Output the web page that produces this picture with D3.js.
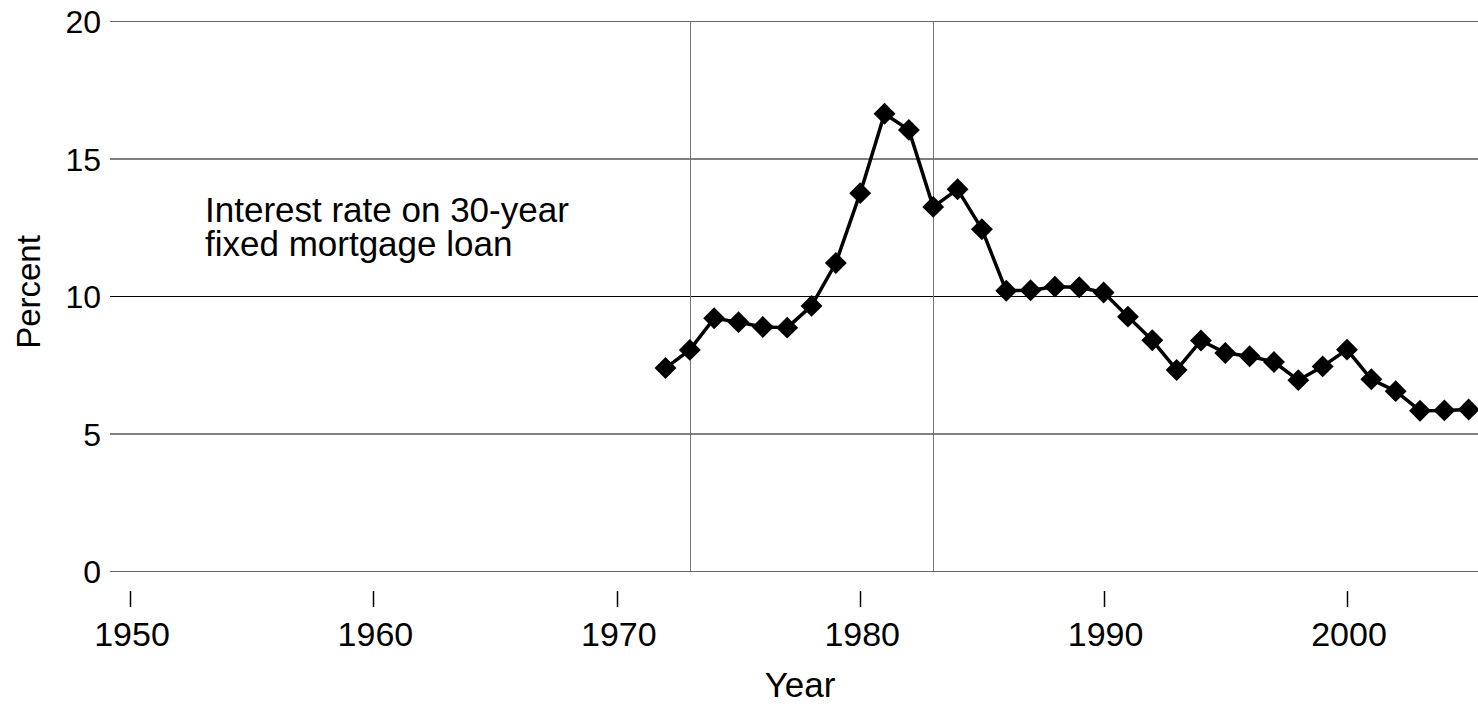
<!DOCTYPE html>
<html>
<head>
<meta charset="utf-8">
<script src="https://cdn.jsdelivr.net/npm/d3@7"></script>
<style>
  body { margin: 0; background: #fff; }
  text { font-family: "Liberation Sans", Arial, sans-serif; fill: #000; }
</style>
</head>
<body>
<div class="chart"></div>
<script>
'use strict'
const years = d3.range(1972, 2006)
const rates = [7.38, 8.04, 9.19, 9.05, 8.87, 8.85, 9.64, 11.20, 13.74, 16.63, 16.04, 13.24, 13.88,
  12.43, 10.19, 10.21, 10.34, 10.32, 10.13, 9.25, 8.39, 7.31, 8.38, 7.93, 7.81, 7.60, 6.94,
  7.44, 8.05, 6.97, 6.54, 5.83, 5.84, 5.87]
const yTicks = [0, 5, 10, 15, 20]
const xTicks = [1950, 1960, 1970, 1980, 1990, 2000]
const markerYears = [1973, 1983]
const note = ['Interest rate on 30-year', 'fixed mortgage loan']

const width = 1478
const height = 704

const x = d3.scaleLinear().domain([1950, 2000]).range([130, 1347])
const y = d3.scaleLinear().domain([0, 20]).range([571, 21])

const svg = d3.select('.chart').append('svg')
  .attr('width', width)
  .attr('height', height)

// horizontal grid
svg.append('g').selectAll('line')
  .data(yTicks)
  .enter().append('line')
  .attr('x1', 110).attr('x2', width)
  .attr('y1', d => y(d) + 0.5).attr('y2', d => y(d) + 0.5)
  .attr('stroke', d => (d === 0 || d === 20) ? '#666' : '#000')
  .attr('stroke-width', 1)

svg.append('g').selectAll('text')
  .data(yTicks)
  .enter().append('text')
  .attr('x', 101)
  .attr('y', d => y(d))
  .attr('dy', '0.38em')
  .attr('text-anchor', 'end')
  .style('font-size', '32px')
  .text(d => d)

// vertical reference lines
svg.append('g').selectAll('line')
  .data(markerYears)
  .enter().append('line')
  .attr('x1', d => Math.round(x(d)) + 0.5).attr('x2', d => Math.round(x(d)) + 0.5)
  .attr('y1', y(20)).attr('y2', y(0))
  .attr('stroke', '#777')
  .attr('stroke-width', 1)

// x ticks
const xg = svg.append('g')
xg.selectAll('line')
  .data(xTicks)
  .enter().append('line')
  .attr('x1', d => Math.round(x(d)) + 0.5).attr('x2', d => Math.round(x(d)) + 0.5)
  .attr('y1', 591).attr('y2', 607)
  .attr('stroke', '#000')
  .attr('stroke-width', 1.5)
xg.selectAll('text')
  .data(xTicks)
  .enter().append('text')
  .attr('x', d => x(d) + 2)
  .attr('y', 646)
  .attr('text-anchor', 'middle')
  .style('font-size', '34px')
  .text(d => d)

// axis titles
svg.append('text')
  .attr('x', 800).attr('y', 697)
  .attr('text-anchor', 'middle')
  .style('font-size', '35px')
  .text('Year')

svg.append('text')
  .attr('transform', 'translate(40,292)rotate(-90)')
  .attr('text-anchor', 'middle')
  .style('font-size', '33px')
  .text('Percent')

// annotation
svg.append('text')
  .attr('x', 205).attr('y', 222)
  .style('font-size', '35px')
  .selectAll('tspan')
  .data(note)
  .enter().append('tspan')
  .attr('x', 205)
  .attr('dy', (d, i) => i === 0 ? 0 : 34)
  .text(d => d)

// series
const pts = years.map((yr, i) => [yr, rates[i]])
svg.append('path')
  .datum(pts)
  .attr('fill', 'none')
  .attr('stroke', '#000')
  .attr('stroke-width', 3.5)
  .attr('stroke-linejoin', 'round')
  .attr('d', d3.line().x(d => x(d[0])).y(d => y(d[1])))

svg.append('g').selectAll('path')
  .data(pts)
  .enter().append('path')
  .attr('d', d3.symbol().type(d3.symbolSquare).size(240))
  .attr('transform', d => 'translate(' + x(d[0]) + ',' + y(d[1]) + ')rotate(45)')
  .attr('fill', '#000')
</script>
</body>
</html>
